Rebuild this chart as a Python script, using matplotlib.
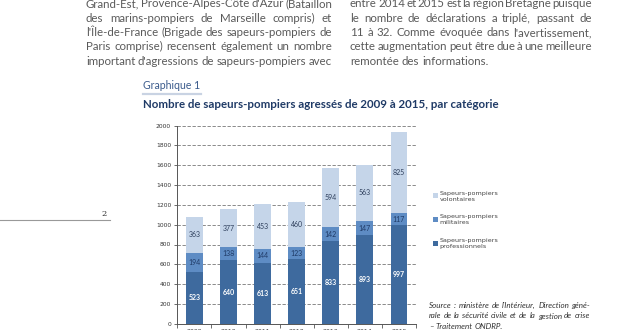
import numpy as np
import matplotlib.pyplot as plt

# Graphique 1 : sapeurs-pompiers agressés 2009-2015
years = ['2009', '2010', '2011', '2012', '2013', '2014', '2015']
professionnels = [523, 640, 613, 651, 833, 893, 997]
militaires = [194, 138, 144, 123, 142, 147, 117]
volontaires = [363, 377, 453, 460, 594, 563, 825]
series_names = ['Sapeurs-pompiers\nvolontaires', 'Sapeurs-pompiers\nmilitaires',
                'Sapeurs-pompiers\nprofessionnels']
yticks = [0, 200, 400, 600, 800, 1000, 1200, 1400, 1600, 1800, 2000]

left_lines = [
    "Grand-Est, Provence-Alpes-Côte d'Azur (Bataillon",
    "des marins-pompiers de Marseille compris) et",
    "l'Île-de-France (Brigade des sapeurs-pompiers de",
    "Paris comprise) recensent également un nombre",
    "important d'agressions de sapeurs-pompiers avec",
]
right_lines = [
    "entre 2014 et 2015 est la région Bretagne puisque",
    "le nombre de déclarations a triplé, passant de",
    "11 à 32. Comme évoquée dans l'avertissement,",
    "cette augmentation peut être due à une meilleure",
    "remontée des informations.",
]
source_lines = [
    "Source : ministère de l'Intérieur, Direction géné-",
    "rale de la sécurité civile et de la gestion de crise",
    "– Traitement ONDRP.",
]

DARK = '#3e6a9e'
MID = '#5e8cc4'
LIGHT = '#c5d5e9'
NAVY = '#1f3a66'
GREY = '#5a5a5a'

W, H = 633, 330
plt.rcParams['font.family'] = ['Lato', 'DejaVu Sans']
fig = plt.figure(figsize=(W / 100, H / 100), dpi=100)
renderer = fig.canvas.get_renderer()


def fx(px):
    return px / W


def fy(py):
    return 1 - py / H


def justified(x0, x1, y, line, justify=True, **kw):
    # place words one by one so the line fills x0..x1 (pixel coords, y = baseline)
    words = line.split(' ')
    texts = [fig.text(0, 0, w, va='baseline', ha='left', **kw) for w in words]
    widths = [t.get_window_extent(renderer).width for t in texts]
    if justify and len(words) > 1:
        gap = (x1 - x0 - sum(widths)) / (len(words) - 1)
    else:
        gap = texts[0].get_fontsize() * 0.35
    x = x0
    for t, w in zip(texts, widths):
        t.set_position((fx(x), fy(y)))
        x += w + gap


# body text
for i, line in enumerate(left_lines):
    justified(86, 332, 7 + 14.5 * i, line, fontsize=8.3, color=GREY)
for i, line in enumerate(right_lines):
    justified(350, 592, 7 + 14.5 * i, line, justify=(i < len(right_lines) - 1),
              fontsize=8.3, color=GREY)

# page number and rule on the left
fig.text(fx(101), fy(216), '2', fontsize=6, color='#333333', family='DejaVu Serif',
         va='baseline')
fig.add_artist(plt.Line2D([0, fx(110)], [fy(220), fy(220)], color='#999999', lw=0.8))

# chart heading
fig.text(fx(143), fy(89), 'Graphique 1', fontsize=7.6, color='#3b5b8c', va='baseline')
fig.add_artist(plt.Line2D([fx(143), fx(201)], [fy(94), fy(94)], color='#c9d3e3', lw=1.6))
fig.text(fx(143), fy(108), 'Nombre de sapeurs-pompiers agressés de 2009 à 2015, par catégorie',
         fontsize=8.3, color=NAVY, fontweight='bold', va='baseline')

# bars
ax = fig.add_axes([fx(177.3), fy(323.7), fx(416) - fx(177.3), (323.7 - 125.7) / H])
x = np.arange(len(years))
bottom2 = np.array(professionnels)
bottom3 = bottom2 + np.array(militaires)
ax.bar(x, professionnels, 0.49, color=DARK, zorder=2, label=series_names[2])
ax.bar(x, militaires, 0.49, bottom=bottom2, color=MID, zorder=2, label=series_names[1])
ax.bar(x, volontaires, 0.49, bottom=bottom3, color=LIGHT, zorder=2, label=series_names[0])

for i in range(len(years)):
    ax.text(x[i], professionnels[i] / 2, str(professionnels[i]), ha='center',
            va='center', fontsize=5, color='white', fontweight='bold')
    ax.text(x[i], bottom2[i] + militaires[i] / 2, str(militaires[i]), ha='center',
            va='center', fontsize=5, color=NAVY)
    ax.text(x[i], bottom3[i] + volontaires[i] / 2, str(volontaires[i]), ha='center',
            va='center', fontsize=5, color='#2e3f5c')

ax.set_xlim(-0.5, len(years) - 0.5)
ax.set_ylim(0, 2000)
ax.set_yticks(yticks)
ax.set_yticklabels([str(v) for v in yticks], fontsize=4.3, color='#333333',
                   family='DejaVu Sans')
ax.set_xticks(x)
ax.set_xticklabels(years, fontsize=4.5, color='#333333', family='DejaVu Sans')
ax.set_xticks(np.arange(-0.5, len(years)), minor=True)
ax.tick_params(axis='x', which='major', length=0, pad=4)
ax.tick_params(axis='x', which='minor', length=3, width=0.6, color='#555555')
ax.tick_params(axis='y', length=2.5, width=0.6, color='#555555', pad=2)
ax.yaxis.grid(True, ls=(0, (4, 2)), color='#777777', lw=0.6, zorder=0)
ax.set_axisbelow(True)
for s in ['top', 'right']:
    ax.spines[s].set_visible(False)
for s in ['left', 'bottom']:
    ax.spines[s].set_color('#555555')
    ax.spines[s].set_linewidth(0.7)
ax.patch.set_alpha(0)

# legend
handles, labels = ax.get_legend_handles_labels()
fig.legend(handles[::-1], labels[::-1], loc='upper left',
           bbox_to_anchor=(fx(427), fy(185)), frameon=False,
           handlelength=0.8, handleheight=0.8, handletextpad=0.3, labelspacing=2.0,
           labelcolor='#444444', prop={'family': 'DejaVu Sans', 'size': 4.6})

# source
for i, line in enumerate(source_lines):
    justified(429, 590, 308 + 10.5 * i, line, justify=(i < 2), fontsize=5.8,
              color='#333333', style='italic')

fig.savefig('out.png', dpi=100)
